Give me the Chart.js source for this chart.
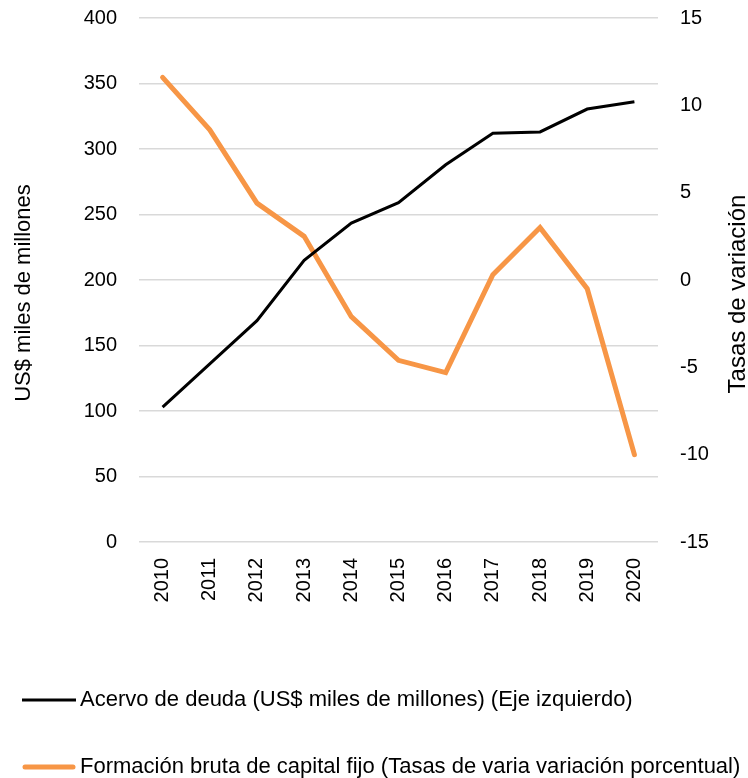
<!DOCTYPE html>
<html>
<head>
<meta charset="utf-8">
<script src="https://cdn.jsdelivr.net/npm/chart.js@4/dist/chart.umd.min.js"></script>
<style>
  html, body { margin: 0; padding: 0; background: #fff; }
  #wrap { width: 748px; height: 778px; position: relative; }
</style>
</head>
<body>
<div id="wrap"><canvas id="myChart"></canvas></div>
<script>
// data
const years = ['2010', '2011', '2012', '2013', '2014', '2015', '2016', '2017', '2018', '2019', '2020'];
const acervoDeuda = [103, 136, 169, 215, 243.5, 259, 288, 312, 313, 330.5, 336];
const formacionCapital = [11.6, 8.6, 4.4, 2.5, -2.1, -4.6, -5.3, 0.3, 3.0, -0.5, -10.0];
const leftAxisTitle = 'US$ miles de millones';
const rightAxisTitle = 'Tasas de variación';
const deudaLabel = 'Acervo de deuda (US$ miles de millones) (Eje izquierdo)';
const capitalLabel = 'Formación bruta de capital fijo (Tasas de varia variación porcentual)';

const TICK_FONT = { family: '"Liberation Sans", Arial, sans-serif', size: 20 };
const FAMILY = '"Liberation Sans", Arial, sans-serif';
const LEGEND_FONT = '22px ' + FAMILY;

// rotated axis titles (both read bottom-to-top) and the two-row legend
const extras = {
    id: 'extras',
    afterDraw(chart) {
        const c = chart.ctx;
        c.save();
        c.fillStyle = '#000';
        c.textAlign = 'center';
        c.textBaseline = 'middle';
        [[24, 293, 22, leftAxisTitle], [738, 294, 24, rightAxisTitle]].forEach(([x, y, size, txt]) => {
            c.save();
            c.font = size + 'px ' + FAMILY;
            c.translate(x, y);
            c.rotate(-Math.PI / 2);
            c.fillText(txt, 0, 0);
            c.restore();
        });

        // legend
        const rows = [700, 767];
        c.font = LEGEND_FONT;
        c.textAlign = 'left';
        chart.data.datasets.forEach((ds, i) => {
            const y = rows[i];
            c.strokeStyle = ds.borderColor;
            c.lineWidth = ds.borderWidth;
            c.lineCap = i === 0 ? 'butt' : 'round';
            c.beginPath();
            c.moveTo(i === 0 ? 22 : 25, y);
            c.lineTo(i === 0 ? 76 : 73, y);
            c.stroke();
            c.fillStyle = '#000';
            c.fillText(ds.label, 80, y);
        });
        c.restore();
    }
};

// keep the vertical axes from pushing the plot down
const noTopPad = (scale, width) => {
    scale.width = width;
    scale.paddingTop = 0;
};

const ctx = document.getElementById('myChart');
new Chart(ctx, {
    type: 'line',
    data: {
        labels: years,
        datasets: [
            {
                label: deudaLabel,
                data: acervoDeuda,
                yAxisID: 'y',
                borderColor: '#000000',
                borderWidth: 3,
                pointRadius: 0,
                tension: 0,
            },
            {
                label: capitalLabel,
                data: formacionCapital,
                yAxisID: 'y1',
                borderColor: '#F79646',
                borderWidth: 5,
                borderCapStyle: 'round',
                pointRadius: 0,
                tension: 0,
            }
        ]
    },
    options: {
        responsive: true,
        maintainAspectRatio: false,
        animation: false,
        layout: {
            padding: { top: 18, bottom: 156, left: 0, right: 0 }
        },
        scales: {
            x: {
                offset: true,
                grid: { display: false, drawTicks: false },
                border: { display: false },
                ticks: {
                    minRotation: 90,
                    maxRotation: 90,
                    padding: 16,
                    color: '#000',
                    font: TICK_FONT
                },
                afterFit(scale) { scale.height = 80; }
            },
            y: {
                position: 'left',
                min: 0,
                max: 400,
                grid: { color: '#d9d9d9', lineWidth: 1.5, drawTicks: false },
                border: { display: false },
                ticks: { stepSize: 50, padding: 22, color: '#000', font: TICK_FONT },
                afterFit(scale) { noTopPad(scale, 139); }
            },
            y1: {
                position: 'right',
                min: -15,
                max: 15,
                grid: { display: false, drawTicks: false },
                border: { display: false },
                ticks: { stepSize: 5, padding: 22, color: '#000', font: TICK_FONT },
                afterFit(scale) { noTopPad(scale, 90); }
            }
        },
        plugins: {
            legend: { display: false },
            tooltip: { enabled: false }
        }
    },
    plugins: [extras]
});
</script>
</body>
</html>
